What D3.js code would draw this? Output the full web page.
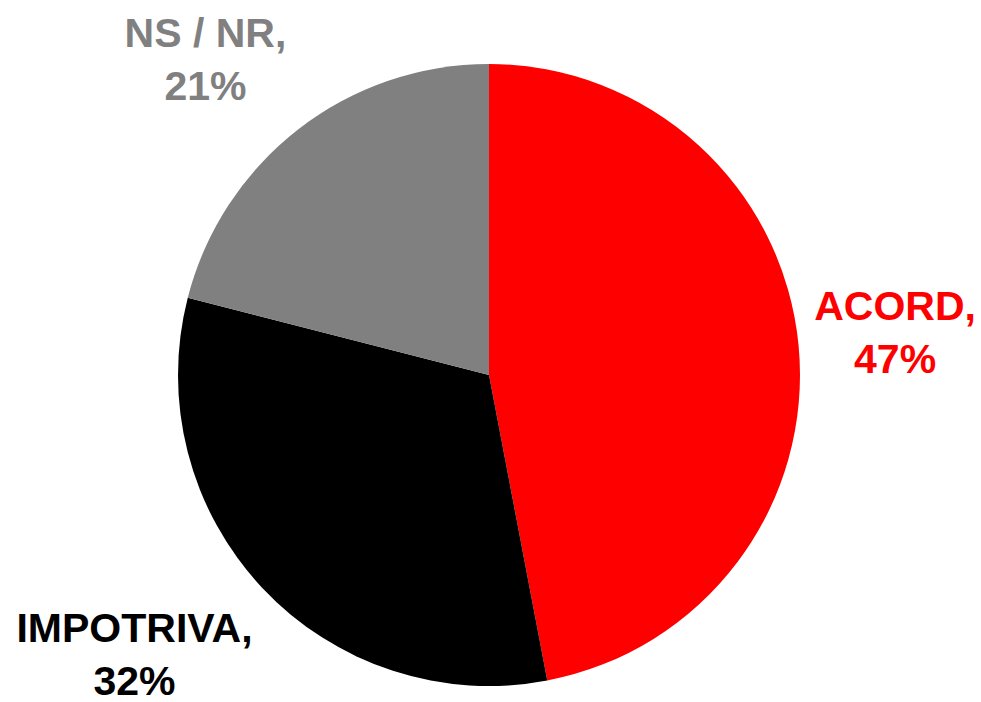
<!DOCTYPE html>
<html>
<head>
<meta charset="utf-8">
<script src="https://cdn.jsdelivr.net/npm/d3@7"></script>
<style>
  html, body { margin: 0; padding: 0; background: #fff; }
  svg { display: block; }
  .label { font-family: 'Liberation Sans', Arial, sans-serif; font-weight: bold; font-size: 41px; }
</style>
</head>
<body>
<div id="chart"></div>
<script>
const categories = ['ACORD', 'IMPOTRIVA', 'NS / NR']
const values = [47, 32, 21]
const colors = ['#ff0000', '#000000', '#808080']

const width = 981
const height = 702
const cx = 489
const cy = 375
const radius = 311
const lineHeight = 53

// nudges applied to the label centroid (Excel "best fit" placement)
const labelNudge = {
  'ACORD': [-22, -15],
  'IMPOTRIVA': [-41, -27],
  'NS / NR': [-20, 12],
}

const data = categories.map((c, i) => ({ name: c, value: values[i], color: colors[i] }))

const svg = d3
  .select('#chart')
  .append('svg')
  .attr('width', width)
  .attr('height', height)

const pie = d3.pie().sort(null).value(d => d.value)
const arc = d3.arc().innerRadius(0).outerRadius(radius)
const labelArc = d3.arc().innerRadius(430).outerRadius(430)

const g = svg.append('g').attr('transform', `translate(${cx},${cy})`)

const arcs = pie(data)

g.selectAll('path')
  .data(arcs)
  .join('path')
  .attr('d', arc)
  .attr('fill', d => d.data.color)

const labels = g
  .selectAll('text.label')
  .data(arcs)
  .join('text')
  .attr('class', 'label')
  .attr('text-anchor', 'middle')
  .attr('fill', d => d.data.color)
  .attr('transform', d => {
    const [x, y] = labelArc.centroid(d)
    const [nx, ny] = labelNudge[d.data.name]
    return `translate(${x + nx},${y + ny})`
  })

labels.append('tspan').attr('x', 0).attr('y', 0).text(d => d.data.name + ',')
labels.append('tspan').attr('x', 0).attr('y', lineHeight).text(d => d.data.value + '%')
</script>
</body>
</html>
